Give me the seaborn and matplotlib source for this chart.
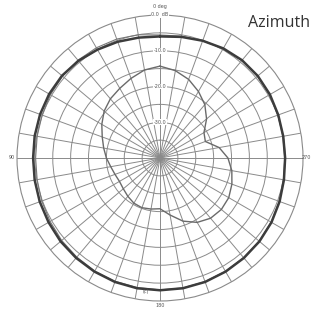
import numpy as np
import pandas as pd
import matplotlib
matplotlib.use("Agg")
import matplotlib.pyplot as plt
import seaborn as sns

# ---- data (angles in degrees, counter-clockwise from top; levels in dB) ----
angles_deg = [0, 10, 20, 30, 40, 50, 60, 70, 80, 90, 100, 110, 120, 130, 140, 150, 160, 170,
              180, 190, 200, 210, 220, 230, 240, 250, 260, 270, 280, 290, 300, 310, 320, 330, 340, 350, 360]
outer_thick_db = [-6.0, -5.8, -5.4, -5.0, -4.5, -4.2, -4.2, -4.3, -4.4, -4.5, -4.4, -4.2, -4.0, -3.7,
                  -3.5, -3.3, -3.1, -3.0, -3.0, -3.0, -3.1, -3.3, -3.5, -3.7, -4.0, -4.4, -4.8, -5.0,
                  -5.0, -4.8, -4.5, -4.3, -4.3, -4.6, -5.1, -5.6, -6.0]
outer_thin_db = [-5.6, -5.0, -4.6, -4.4, -4.3, -4.4, -4.6, -4.9, -5.1, -5.2, -5.1, -4.8, -4.5, -4.1,
                 -3.8, -3.5, -3.3, -3.2, -3.1, -3.1, -3.2, -3.4, -3.6, -3.8, -4.1, -4.5, -4.9, -5.1,
                 -5.1, -4.9, -4.6, -4.4, -4.4, -4.7, -5.1, -5.4, -5.6]
inner_db = [-14.3, -15.0, -16.3, -17.5, -18.4, -19.6, -21.2, -22.8, -24.0, -25.0, -26.0, -26.6, -26.9,
            -26.6, -26.0, -25.4, -25.2, -25.5, -25.8, -23.8, -21.2, -19.2, -18.0, -17.6, -17.8, -18.6,
            -19.6, -21.0, -23.2, -26.5, -25.8, -23.0, -20.5, -18.5, -16.6, -15.2, -14.3]
ring_levels = [-35, -30, -25, -20, -15, -10, -5]
ring_labels = {0: "0.0  dB", -10: "-10.0", -20: "-20.0", -30: "-30.0"}
angle_labels = {0: "0 deg", 90: "90", 180: "180", 270: "270"}
title_text = "Azimuth"

sns.set_theme(style="white")
plt.rcParams['font.family'] = ['DejaVu Sans']

fig = plt.figure(figsize=(3.11, 3.09), dpi=100)
fig.patch.set_facecolor("white")
ax = fig.add_axes([0.0547, 0.0259, 0.9196, 0.9256], projection="polar")
ax.set_theta_zero_location("N")
ax.set_theta_direction(1)
ax.set_rlim(-40, 0)

theta = np.deg2rad(angles_deg)
df = pd.DataFrame({"theta": theta, "thick": outer_thick_db, "thin": outer_thin_db, "inner": inner_db})

# grid
ax.set_xticks(np.deg2rad(np.arange(0, 360, 10)))
ax.set_yticks(ring_levels)
ax.set_xticklabels([])
ax.set_yticklabels([])
ax.grid(True, color="#8a8a8a", linewidth=0.7)
ax.spines["polar"].set_color("#8a8a8a")
ax.spines["polar"].set_linewidth(0.8)

sns.lineplot(data=df, x="theta", y="thin", ax=ax, sort=False, color="#777777", linewidth=0.8, estimator=None)
sns.lineplot(data=df, x="theta", y="thick", ax=ax, sort=False, color="#3c3c3c", linewidth=1.8, estimator=None)
sns.lineplot(data=df, x="theta", y="inner", ax=ax, sort=False, color="#6a6a6a", linewidth=1.0, estimator=None)
ax.set_xlabel("")
ax.set_ylabel("")

# ring labels along the 0 deg spoke
for lvl, txt in ring_labels.items():
    ax.text(0, lvl, txt, fontsize=3.5, color="#555555", ha="center", va="center",
            bbox=dict(facecolor="white", edgecolor="none", pad=0.3))

# angle labels
ax.text(0, 2.4, angle_labels[0], fontsize=3.5, color="#555555", ha="center", va="center")
ax.text(np.deg2rad(90), 1.5, angle_labels[90], fontsize=3.5, color="#555555", ha="center", va="center")
ax.text(np.deg2rad(270), 1.0, angle_labels[270], fontsize=3.5, color="#555555", ha="center", va="center")
ax.text(np.deg2rad(180), 1.3, angle_labels[180], fontsize=3.5, color="#555555", ha="center", va="center")
ax.text(np.deg2rad(174), -2.5, "(c)", fontsize=3.5, color="#555555", ha="center", va="center")

fig.text(248 / 311, 1 - 23 / 309, title_text, fontsize=11.5, color="#333333",
         family=["Open Sans", "DejaVu Sans"], ha="left", va="center")

fig.savefig("out.png", dpi=100, facecolor="white")
